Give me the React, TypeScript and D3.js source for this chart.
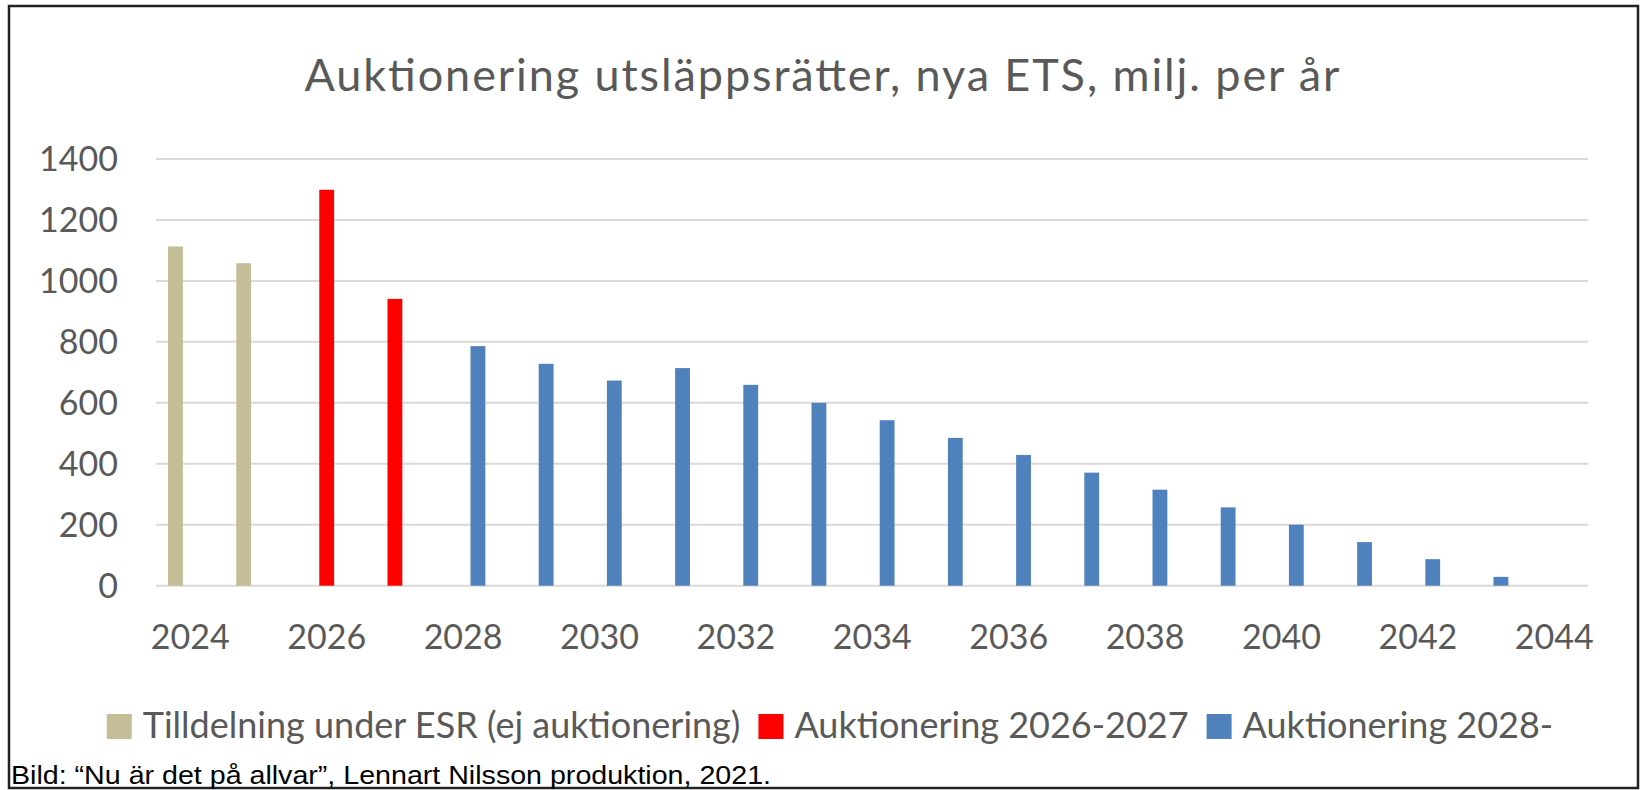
import React, { useEffect, useRef } from 'react';
import * as d3 from 'd3';

// values, millions per year
const years = [2024, 2025, 2026, 2027, 2028, 2029, 2030, 2031, 2032, 2033, 2034,
  2035, 2036, 2037, 2038, 2039, 2040, 2041, 2042, 2043, 2044];
const esrValues = [1113, 1058]; // 2024-2025
const auction2627Values = [1299, 941]; // 2026-2027
const auction2028Values = [786, 728, 673, 714, 659, 600, 543, 485, 429, 371, 315, 257, 200, 143, 87, 29]; // 2028-2043
const seriesStart = [2024, 2026, 2028];
const seriesNames = ['Tilldelning under ESR (ej auktionering)', 'Auktionering 2026-2027', 'Auktionering 2028-'];
const seriesColors = ['#C4BD97', '#FF0000', '#4F81BD'];
const xTickLabels = ['2024', '2026', '2028', '2030', '2032', '2034', '2036', '2038', '2040', '2042', '2044'];
const yTicks = [0, 200, 400, 600, 800, 1000, 1200, 1400];

const title = 'Auktionering utsläppsrätter, nya ETS, milj. per år';
const footer = 'Bild: \u201CNu är det på allvar\u201D, Lennart Nilsson produktion, 2021.';

const W = 1644;
const H = 790;
const FONT = 'Lato, "Open Sans", sans-serif';
const GREY = '#595959';

const App = () => {
  const svgRef = useRef<SVGSVGElement>(null);

  useEffect(() => {
    const svg = d3.select(svgRef.current);
    svg.selectAll('*').remove();

    const seriesValues = [esrValues, auction2627Values, auction2028Values];
    const rows = seriesValues.flatMap((vals, i) =>
      vals.map((v, j) => ({ series: i, year: seriesStart[i] + j, value: v })));

    const x0 = d3.scaleBand<number>().domain(years).range([156.2, 1588.4]);
    const x1 = d3.scaleBand<number>().domain([0, 1, 2]).range([0, x0.bandwidth()]).paddingOuter(0.8);
    const y = d3.scaleLinear().domain([0, 1400]).range([585.7, 159]);

    svg.append('rect').attr('width', W).attr('height', H).attr('fill', '#fff');

    // frame
    svg.append('rect')
      .attr('x', 9).attr('y', 6).attr('width', 1629).attr('height', 782)
      .attr('fill', 'none').attr('stroke', '#222').attr('stroke-width', 2.5);

    svg.append('text')
      .attr('x', 822).attr('y', 91)
      .attr('text-anchor', 'middle')
      .attr('font-family', FONT).attr('font-size', 45).attr('fill', GREY)
      .attr('textLength', 1035).attr('lengthAdjust', 'spacing')
      .text(title);

    // gridlines
    svg.append('g')
      .selectAll('line')
      .data(yTicks)
      .join('line')
      .attr('x1', x0.range()[0]).attr('x2', x0.range()[1])
      .attr('y1', d => y(d)).attr('y2', d => y(d))
      .attr('stroke', '#d9d9d9').attr('stroke-width', 2);

    svg.append('g')
      .attr('font-family', FONT).attr('font-size', 34).attr('fill', GREY)
      .attr('text-anchor', 'end')
      .selectAll('text')
      .data(yTicks)
      .join('text')
      .attr('x', 118)
      .attr('y', d => y(d) + 12)
      .text(d => d);

    svg.append('g')
      .attr('font-family', FONT).attr('font-size', 34).attr('fill', GREY)
      .attr('text-anchor', 'middle')
      .selectAll('text')
      .data(xTickLabels)
      .join('text')
      .attr('x', d => (x0(+d) as number) + x0.bandwidth() / 2)
      .attr('y', 649)
      .text(d => d);

    svg.append('g')
      .selectAll('rect')
      .data(rows)
      .join('rect')
      .attr('x', d => (x0(d.year) as number) + (x1(d.series) as number))
      .attr('width', x1.bandwidth())
      .attr('y', d => y(d.value))
      .attr('height', d => y(0) - y(d.value))
      .attr('fill', d => seriesColors[d.series]);

    // legend, laid out from measured text widths
    const legend = svg.append('g').attr('font-family', FONT).attr('font-size', 36).attr('fill', GREY);
    const items = seriesNames.map((name, i) => {
      const g = legend.append('g');
      g.append('rect').attr('width', 25).attr('height', 25).attr('y', 714).attr('fill', seriesColors[i]);
      const t = g.append('text').attr('x', 36).attr('y', 738).text(name);
      const w = (t.node() as SVGTextElement).getComputedTextLength();
      return { g, w: 36 + w };
    });
    const gap = 18;
    const total = d3.sum(items, d => d.w) + gap * (items.length - 1);
    let cx = 830 - total / 2;
    items.forEach(it => {
      it.g.attr('transform', `translate(${cx},0)`);
      cx += it.w + gap;
    });

    svg.append('text')
      .attr('x', 11).attr('y', 784)
      .attr('font-family', '"Liberation Sans", Arial, sans-serif').attr('font-size', 25)
      .attr('fill', '#000')
      .attr('textLength', 760).attr('lengthAdjust', 'spacingAndGlyphs')
      .text(footer);
  });

  return (
    <svg
      ref={svgRef}
      width={W}
      height={H}
      viewBox={`0 0 ${W} ${H}`}
      style={{ position: 'absolute', left: 0, top: 0, display: 'block' }}
    />
  );
};

export default App;
